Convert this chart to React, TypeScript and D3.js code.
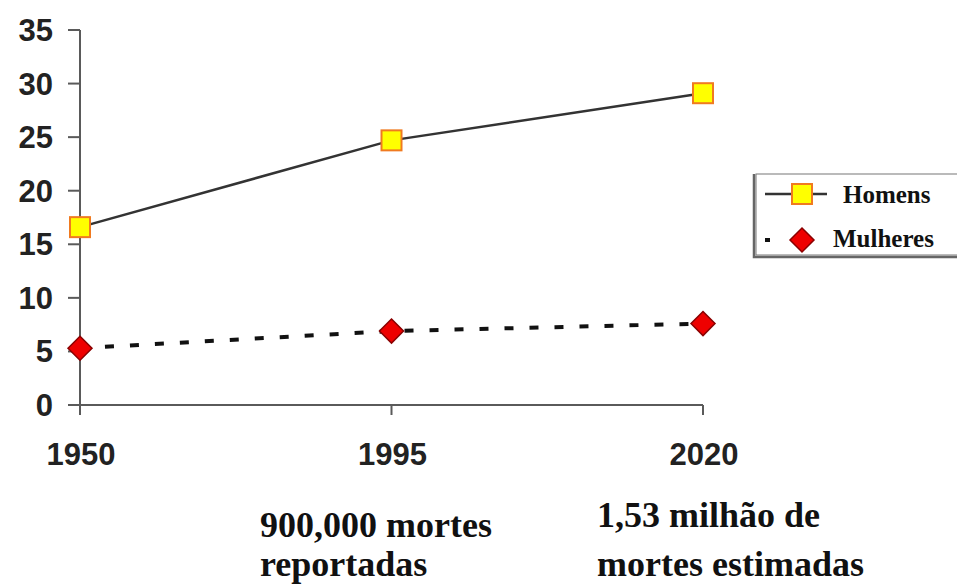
import React from 'react';
import * as d3 from 'd3';

// data
const years = ['1950', '1995', '2020'];
const homens = [16.6, 24.7, 29.1];
const mulheres = [5.3, 6.9, 7.6];
const yTicks = [0, 5, 10, 15, 20, 25, 30, 35];
const notes = [
    { year: '1995', lines: ['900,000 mortes', 'reportadas'] },
    { year: '2020', lines: ['1,53 milhão de', 'mortes estimadas'] }
];

const W = 957;
const H = 585;

const App: React.FC = () => {
    const x = d3.scalePoint<string>().domain(years).range([80, 703]).padding(0);
    const y = d3.scaleLinear().domain([0, 35]).range([405, 30]);

    const line = d3.line<number>()
        .x((_, i) => x(years[i]) as number)
        .y(d => y(d));

    const axisColor = '#5a5a5a';
    const sans = '"Liberation Sans", Arial, sans-serif';
    const serif = '"Liberation Serif", "Times New Roman", serif';

    const square = (cx: number, cy: number, key: string) => (
        <rect key={key} x={cx - 10} y={cy - 10} width={20} height={20}
            fill="#ffff00" stroke="#f07a20" strokeWidth={2} />
    );
    const diamond = (cx: number, cy: number, key: string) => (
        <path key={key} d={`M${cx},${cy - 12}L${cx + 12},${cy}L${cx},${cy + 12}L${cx - 12},${cy}Z`}
            fill="#ee0000" stroke="#8a0000" strokeWidth={1.5} />
    );

    return (
        <svg width={W} height={H} style={{ position: 'absolute', left: 0, top: 0, background: '#fff' }}>
            {/* y axis */}
            <line x1={80} x2={80} y1={y(35)} y2={415} stroke={axisColor} strokeWidth={2} />
            {yTicks.map(t => (
                <g key={t}>
                    <line x1={68} x2={80} y1={y(t)} y2={y(t)} stroke={axisColor} strokeWidth={2} />
                    <text x={53} y={y(t) + 11} textAnchor="end" fontFamily={sans} fontWeight="bold"
                        fontSize={31} fill="#222">{t}</text>
                </g>
            ))}

            {/* x axis */}
            <line x1={68} x2={x('2020')} y1={y(0)} y2={y(0)} stroke={axisColor} strokeWidth={2} />
            {years.map(yr => (
                <g key={yr}>
                    <line x1={x(yr)} x2={x(yr)} y1={y(0)} y2={415} stroke={axisColor} strokeWidth={2} />
                    <text x={(x(yr) as number) + 1} y={465} textAnchor="middle" fontFamily={sans}
                        fontWeight="bold" fontSize={31} fill="#222">{yr}</text>
                </g>
            ))}

            {/* series */}
            <path d={line(homens) || ''} fill="none" stroke="#333" strokeWidth={2.5} />
            <path d={line(mulheres) || ''} fill="none" stroke="#111" strokeWidth={4}
                strokeDasharray="9,16" />
            {homens.map((v, i) => square(x(years[i]) as number, y(v), 'h' + i))}
            {mulheres.map((v, i) => diamond(x(years[i]) as number, y(v), 'm' + i))}

            {/* legend */}
            <rect x={756} y={174} width={220} height={81} fill="#fff" stroke="#777" strokeWidth={1} />
            <path d="M754,174 L754,257 L976,257" fill="none" stroke="#666" strokeWidth={2.5} />
            <line x1={765} x2={827} y1={194} y2={194} stroke="#333" strokeWidth={2.5} />
            {square(802, 194, 'lh')}
            <text x={843} y={203} fontFamily={serif} fontWeight="bold" fontSize={25} fill="#111">Homens</text>
            <line x1={765} x2={770} y1={240} y2={240} stroke="#111" strokeWidth={4} />
            {diamond(802, 240, 'lm')}
            <text x={833} y={247} fontFamily={serif} fontWeight="bold" fontSize={25} fill="#111">Mulheres</text>

            {/* notes under the axis */}
            {notes.map((n, i) => (
                <g key={n.year}>
                    {n.lines.map((l, j) => (
                        <text key={j}
                            x={i === 0 ? 260 : 597}
                            y={i === 0 ? [537, 576][j] : [527, 576][j]}
                            fontFamily={serif} fontWeight="bold" fontSize={36} fill="#111">{l}</text>
                    ))}
                </g>
            ))}
        </svg>
    );
};

export default App;
